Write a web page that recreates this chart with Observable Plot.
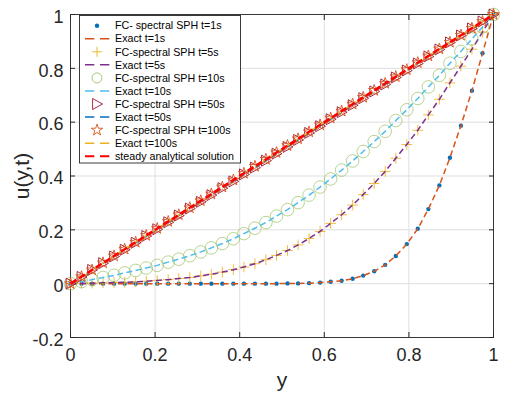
<!DOCTYPE html>
<html><head><meta charset="utf-8">
<script src="https://cdn.jsdelivr.net/npm/d3@7"></script>
<script src="https://cdn.jsdelivr.net/npm/@observablehq/plot@0.6"></script>
<style>
html,body{margin:0;padding:0;background:#fff;}
#chart{position:relative;width:508px;height:398px;}
</style></head><body><div id="chart"></div>
<script>
// ---- data ----
const yPos = [0,0.026,0.051,0.077,0.103,0.128,0.154,0.179,0.205,0.231,0.256,0.282,0.308,0.333,0.359,0.385,0.410,0.436,0.462,0.487,0.513,0.538,0.564,0.590,0.615,0.641,0.667,0.692,0.718,0.744,0.769,0.795,0.821,0.846,0.872,0.897,0.923,0.949,0.974,1];
const u1 = [0,0,0,0,0,0,0,0,0,0,0,0,0,0,0,0,0,0,0,0,0.001,0.001,0.002,0.004,0.007,0.011,0.018,0.030,0.046,0.070,0.103,0.147,0.204,0.277,0.365,0.468,0.587,0.717,0.856,1];
const u5 = [0,0.001,0.002,0.003,0.004,0.005,0.007,0.009,0.012,0.015,0.019,0.023,0.029,0.035,0.043,0.052,0.062,0.074,0.089,0.105,0.123,0.144,0.168,0.194,0.224,0.256,0.292,0.331,0.372,0.417,0.466,0.517,0.570,0.627,0.685,0.746,0.808,0.871,0.935,1];
const u10 = [0,0.008,0.015,0.023,0.031,0.040,0.049,0.058,0.068,0.080,0.091,0.104,0.118,0.133,0.149,0.167,0.186,0.206,0.227,0.251,0.275,0.301,0.329,0.359,0.389,0.422,0.456,0.491,0.528,0.566,0.606,0.646,0.688,0.731,0.774,0.819,0.863,0.909,0.954,1];
const u50 = [0,0.025,0.051,0.076,0.101,0.126,0.152,0.177,0.202,0.228,0.253,0.279,0.304,0.329,0.355,0.380,0.406,0.431,0.457,0.483,0.508,0.534,0.560,0.585,0.611,0.637,0.663,0.689,0.714,0.740,0.766,0.792,0.818,0.844,0.870,0.896,0.922,0.948,0.974,1];
const u100 = [0,0.026,0.051,0.077,0.103,0.128,0.154,0.179,0.205,0.231,0.256,0.282,0.308,0.333,0.359,0.385,0.410,0.436,0.462,0.487,0.513,0.538,0.564,0.590,0.615,0.641,0.667,0.692,0.718,0.744,0.769,0.795,0.821,0.846,0.872,0.897,0.923,0.949,0.974,1];
const steadyX = [0, 1];
const steadyU = [0, 1];
const xTicks = [0, 0.2, 0.4, 0.6, 0.8, 1];
const yTicks = [-0.2, 0, 0.2, 0.4, 0.6, 0.8, 1];
const xLabel = "y";
const yLabel = "u(y,t)";
const legendLabels = ["FC- spectral SPH t=1s","Exact t=1s","FC-spectral SPH t=5s","Exact t=5s","FC-spectral SPH t=10s","Exact t=10s","FC-spectral SPH t=50s","Exact t=50s","FC-spectral SPH t=100s","Exact t=100s","steady analytical solution"];

// ---- styles ----
const FONT = "'Liberation Sans', Arial, Helvetica, sans-serif";
const C = {blue:"#0072BD", orange:"#D95319", yellow:"#EDB120", purple:"#7E2F8E", green:"#77AC30", cyan:"#4DBEEE", dred:"#A2142F", red:"#FF0000"};
const sym = fn => ({draw(ctx, size){ const r = Math.sqrt(size/Math.PI); fn(ctx, r); }});
const plusSym = sym((c,r)=>{c.moveTo(-r,0);c.lineTo(r,0);c.moveTo(0,-r);c.lineTo(0,r);});
const triRight = sym((c,r)=>{c.moveTo(r,0);c.lineTo(-0.8*r,-r);c.lineTo(-0.8*r,r);c.closePath();});
const pentagram = sym((c,r)=>{const ri=r*0.382;for(let k=0;k<10;k++){const a=-Math.PI/2+k*Math.PI/5;const rr=k%2?ri:r;const x=rr*Math.cos(a),y=rr*Math.sin(a);if(k)c.lineTo(x,y);else c.moveTo(x,y);}c.closePath();});
const circSym = sym((c,r)=>{c.moveTo(r,0);c.arc(0,0,r,0,2*Math.PI);});
const fmt = d => String(d);
const dashLine = (u, color) => Plot.line(yPos, {x: yPos, y: u, stroke: color, strokeWidth: 1.5, strokeDasharray: "6,3.5", strokeLinecap: "butt"});

const svg = Plot.plot({
  width: 508, height: 398,
  marginLeft: 70, marginRight: 15, marginTop: 14, marginBottom: 61,
  style: {fontFamily: FONT, background: "#fff", color: "#262626", overflow: "visible"},
  x: {domain: [0, 1]},
  y: {domain: [-0.2, 1]},
  marks: [
    Plot.gridX(xTicks, {stroke: "#dfdfdf", strokeOpacity: 1, strokeWidth: 1}),
    Plot.gridY(yTicks, {stroke: "#dfdfdf", strokeOpacity: 1, strokeWidth: 1}),
    Plot.frame({stroke: "#262626", strokeWidth: 0.9}),
    Plot.axisX(xTicks, {anchor: "bottom", tickSize: -5, tickFormat: () => "", label: null}),
    Plot.axisX(xTicks, {anchor: "top", tickSize: -5, tickFormat: () => "", label: null}),
    Plot.axisY(yTicks, {anchor: "left", tickSize: -5, tickFormat: () => "", label: null}),
    Plot.axisY(yTicks, {anchor: "right", tickSize: -5, tickFormat: () => "", label: null}),
    Plot.axisX(xTicks, {anchor: "bottom", tickSize: 0, tickPadding: 11, tickFormat: fmt, fontSize: 18, label: null, fill: "#262626"}),
    Plot.axisY(yTicks, {anchor: "left", tickSize: 0, tickPadding: 7, tickFormat: fmt, fontSize: 18, label: null, dy: 2.5, fill: "#262626"}),
    // t = 1
    Plot.dot(yPos, {x: yPos, y: u1, r: 2.2, fill: C.blue, stroke: "none"}),
    dashLine(u1, C.orange),
    // t = 5
    Plot.dot(yPos, {x: yPos, y: u5, r: 5.3, symbol: plusSym, fill: "none", stroke: C.yellow, strokeWidth: 1, strokeOpacity: 0.85}),
    dashLine(u5, C.purple),
    // t = 10
    Plot.dot(yPos, {x: yPos, y: u10, r: 6.3, fill: "none", stroke: C.green, strokeWidth: 0.8, strokeOpacity: 0.65}),
    dashLine(u10, C.cyan),
    // t = 50
    Plot.dot(yPos, {x: yPos, y: u50, r: 5.5, symbol: triRight, fill: "none", stroke: C.dred, strokeWidth: 0.9}),
    dashLine(u50, C.blue),
    // t = 100
    Plot.dot(yPos, {x: yPos, y: u100, r: 6, symbol: pentagram, fill: "none", stroke: C.orange, strokeWidth: 0.9}),
    dashLine(u100, C.yellow),
    // steady
    Plot.line(steadyX, {x: steadyX, y: steadyU, stroke: C.red, strokeWidth: 2.5, strokeDasharray: "7,3", strokeLinecap: "butt"}),
    // axis titles
    Plot.text([xLabel], {text: d => d, frameAnchor: "bottom", dy: 42.6, fontSize: 21, lineAnchor: "middle", textAnchor: "middle", fill: "#262626"}),
    Plot.text([yLabel], {text: d => d, frameAnchor: "left", dx: -48.5, rotate: -90, fontSize: 21, lineAnchor: "middle", textAnchor: "middle", fill: "#262626"})
  ]
});
document.getElementById("chart").appendChild(svg);

// ---- legend ----
const legendStyles = [
  {type:"sym", sym: circSym, r: 2.2, fill: C.blue, stroke: "none"},
  {type:"line", color: C.orange},
  {type:"sym", sym: plusSym, r: 5, fill: "none", stroke: C.yellow},
  {type:"line", color: C.purple},
  {type:"sym", sym: circSym, r: 5, fill: "none", stroke: C.green, opacity: 0.7},
  {type:"line", color: C.cyan},
  {type:"sym", sym: triRight, r: 5.5, fill: "none", stroke: C.dred},
  {type:"line", color: C.blue},
  {type:"sym", sym: pentagram, r: 6, fill: "none", stroke: C.orange},
  {type:"line", color: C.yellow},
  {type:"line", color: C.red, width: 2}
];
const lg = d3.select(svg).append("g").attr("font-family", FONT).attr("text-anchor", "start");
lg.append("rect").attr("x", 79.5).attr("y", 15.5).attr("width", 161).attr("height", 147.5)
  .attr("fill", "#fff").attr("stroke", "#262626").attr("stroke-width", 0.9);
legendLabels.forEach((label, k) => {
  const cy = 25.7 + 13.05 * k;
  const s = legendStyles[k];
  if (s.type === "line") {
    lg.append("line").attr("x1", 85).attr("x2", 109.5).attr("y1", cy).attr("y2", cy)
      .attr("stroke", s.color).attr("stroke-width", s.width || 1.5).attr("stroke-dasharray", "9.3,5.7");
  } else {
    lg.append("path").attr("d", d3.symbol(s.sym, Math.PI * s.r * s.r)())
      .attr("transform", `translate(97,${cy})`)
      .attr("fill", s.fill).attr("stroke", s.stroke).attr("stroke-width", 0.9)
      .attr("stroke-opacity", s.opacity || 1);
  }
  lg.append("text").attr("x", 115).attr("y", cy).attr("dy", "0.35em").attr("text-anchor", "start")
    .attr("font-size", 10.7).attr("fill", "#000").text(label);
});
</script></body></html>
